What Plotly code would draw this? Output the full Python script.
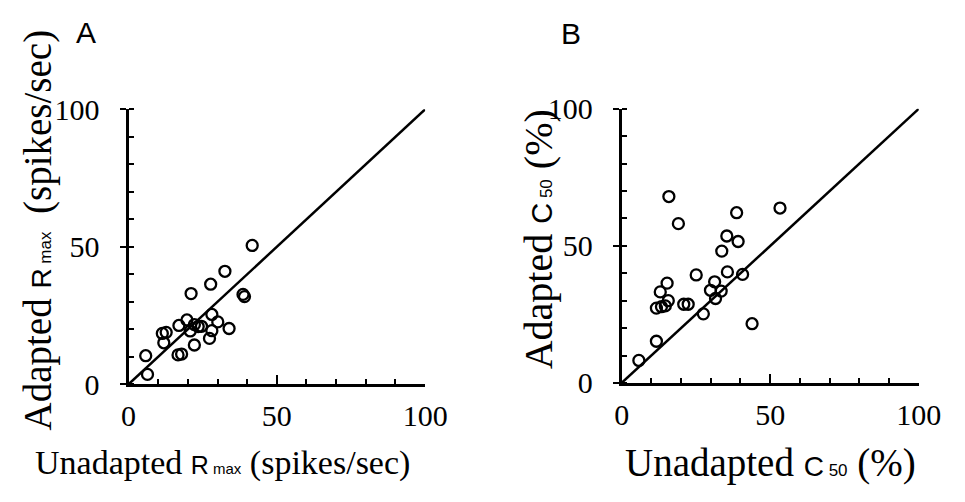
import plotly.graph_objects as go

# Panel A: maximum response (spikes/sec)
rmax_unadapted = [41.7, 32.5, 27.7, 21.1, 38.6, 39.1, 28.1, 30.1, 33.9, 28.1, 27.3, 19.7, 17.0,
                  20.8, 22.2, 23.5, 24.6, 22.2, 16.7, 17.9, 11.4, 12.7, 11.9, 5.8, 6.4]
rmax_adapted = [50.5, 41.1, 36.4, 33.0, 32.7, 31.9, 25.4, 22.7, 20.3, 19.5, 16.7, 23.4, 21.4,
                19.4, 21.7, 21.0, 21.1, 14.3, 10.7, 11.0, 18.5, 18.9, 15.1, 10.4, 3.6]

# Panel B: semi-saturation contrast (%)
c50_unadapted = [15.9, 19.1, 53.3, 38.7, 35.4, 39.2, 33.7, 35.6, 40.7, 25.1, 31.3, 29.9, 33.5,
                 31.6, 15.3, 13.0, 15.7, 11.7, 13.4, 14.7, 20.9, 22.4, 27.5, 43.9, 11.7, 5.8]
c50_adapted = [68.0, 58.1, 63.8, 62.1, 53.6, 51.6, 48.1, 40.5, 39.6, 39.4, 36.9, 33.8, 33.5,
               30.8, 36.4, 33.2, 30.0, 27.3, 27.8, 28.1, 28.7, 28.7, 25.2, 21.6, 15.2, 8.2]

axis_range = [0, 100]
major_ticks = [0, 50, 100]
tick_labels = ["0", "50", "100"]
identity = [0, 100]

SERIF = "Liberation Serif"
SANS = "Liberation Sans"

fig = go.Figure()

marker = dict(symbol="circle-open", size=11, color="black", line=dict(width=2.3, color="black"))

fig.add_trace(go.Scatter(x=identity, y=identity, mode="lines", line=dict(color="black", width=2.5),
                         xaxis="x", yaxis="y", hoverinfo="skip", cliponaxis=False))
fig.add_trace(go.Scatter(x=rmax_unadapted, y=rmax_adapted, mode="markers", marker=marker,
                         xaxis="x", yaxis="y", cliponaxis=False))
fig.add_trace(go.Scatter(x=identity, y=identity, mode="lines", line=dict(color="black", width=2.5),
                         xaxis="x2", yaxis="y2", hoverinfo="skip", cliponaxis=False))
fig.add_trace(go.Scatter(x=c50_unadapted, y=c50_adapted, mode="markers", marker=marker,
                         xaxis="x2", yaxis="y2", cliponaxis=False))

serif_ticks = [f'<span style="font-family:Liberation Serif">{t}</span>' for t in tick_labels]


def xaxis_style(domain, anchor):
    return dict(domain=domain, anchor=anchor, range=axis_range,
                tickmode="array", tickvals=major_ticks, ticktext=serif_ticks,
                showline=True, linecolor="black", linewidth=3, showgrid=False, zeroline=False,
                ticks="inside", ticklen=9, tickwidth=2, tickcolor="black",
                minor=dict(dtick=10, ticks="inside", ticklen=5, tickwidth=1.5, tickcolor="black"),
                tickfont=dict(family=SERIF, size=30, color="black"), ticklabelstandoff=3)


def yaxis_style(domain, anchor):
    return dict(domain=domain, anchor=anchor, range=axis_range,
                tickmode="array", tickvals=major_ticks, ticktext=serif_ticks,
                showline=True, linecolor="black", linewidth=3, showgrid=False, zeroline=False,
                ticks="outside", ticklen=6, tickwidth=2, tickcolor="black",
                minor=dict(dtick=10, ticks="inside", ticklen=5, tickwidth=1.5, tickcolor="black"),
                tickfont=dict(family=SERIF, size=30, color="black"), ticklabelstandoff=14)


def r_max(big, small):
    return (f'<span style="font-family:Liberation Sans;font-size:{big}px">R</span>'
            f'<span style="font-family:Liberation Sans;font-size:{small}px"> max</span>')


def c_50(big, small):
    return (f'<span style="font-family:Liberation Sans;font-size:{big}px">C</span>'
            f'<span style="font-family:Liberation Sans;font-size:{small}px"> 50</span>')


def serif(size):
    return dict(family=SERIF, size=size, color="black")


annotations = [
    dict(text="A", x=81, y=17, font=dict(family=SANS, size=30, color="black")),
    dict(text="B", x=582, y=18, font=dict(family=SANS, size=30, color="black")),
    dict(text="Unadapted " + r_max(25, 15) + " (spikes/sec)", x=222, y=478, font=serif(34)),
    dict(text="Adapted " + r_max(28, 17) + " \u2009(spikes/sec)", x=31, y=229, textangle=-90,
         font=serif(39)),
    dict(text="Unadapted " + c_50(28, 17) + " (%)", x=788, y=478, font=serif(39)),
    dict(text="Adapted " + c_50(29, 17) + " (%)", x=548, y=238, textangle=-90, font=serif(40)),
]

W, H = 965, 502
for a in annotations:
    a["showarrow"] = False
    a["xref"] = "paper"
    a["yref"] = "paper"
    a["x"] = a["x"] / W
    a["y"] = 1 - a["y"] / H
    a["xanchor"] = "center"
    a["yanchor"] = "middle"

fig.update_layout(
    width=W, height=H,
    margin=dict(l=0, r=0, t=0, b=0),
    paper_bgcolor="white", plot_bgcolor="white",
    font=dict(family=SERIF, color="black"),
    showlegend=False,
    xaxis=xaxis_style([124.5 / W, 431 / W], "y"),
    yaxis=yaxis_style([108 / H, 403 / H], "x"),
    xaxis2=xaxis_style([634 / W, 941 / W], "y2"),
    yaxis2=yaxis_style([109.5 / H, 403.5 / H], "x2"),
    annotations=annotations,
)

fig.write_html("out.html")
